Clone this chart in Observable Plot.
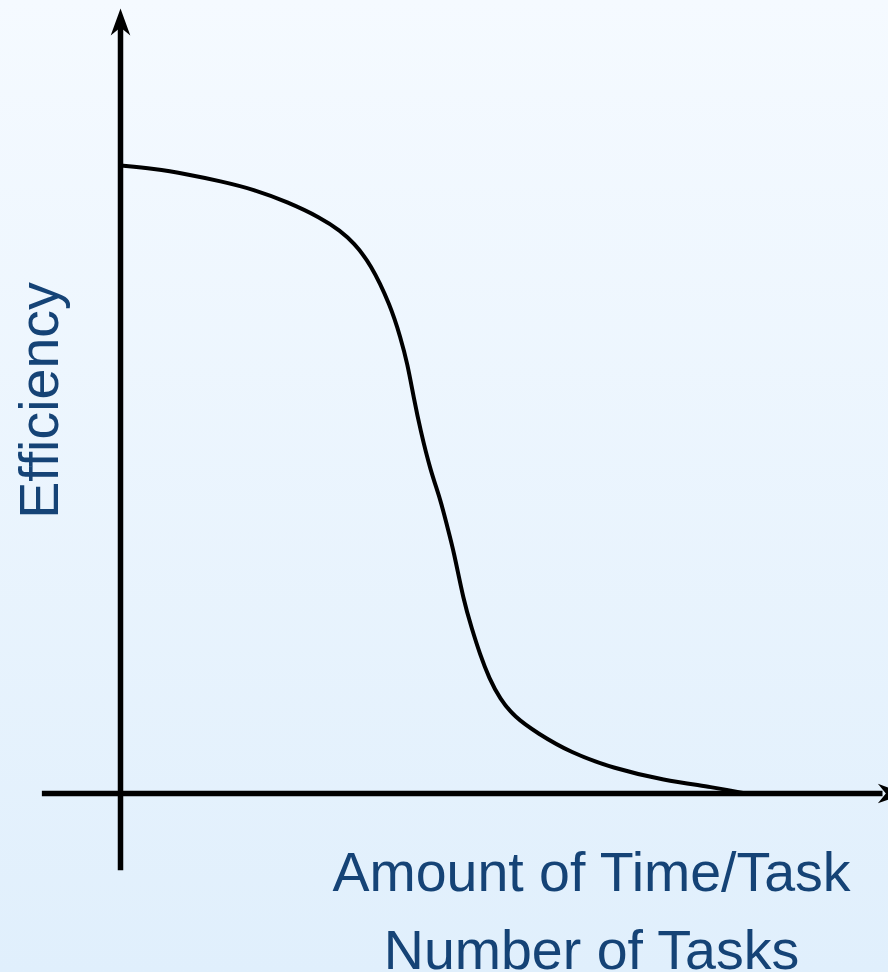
<!DOCTYPE html>
<html>
<head>
<meta charset="utf-8">
<script src="https://cdn.jsdelivr.net/npm/d3@7"></script>
<script src="https://cdn.jsdelivr.net/npm/@observablehq/plot@0.6"></script>
<style>
  html, body { margin: 0; padding: 0; background: #eaf4fd; }
  #chart { width: 888px; height: 972px; }
</style>
</head>
<body>
<div id="chart"></div>
<script>
// Curve: amount of time per task / number of tasks (x) vs efficiency (y)
const load = [0, 0.53, 1.07, 1.6, 2.13, 2.67, 3.2, 3.52, 3.73, 4.0, 4.32, 4.48, 4.59, 4.69, 4.8, 4.96, 5.12, 5.23, 5.33, 5.49, 5.62, 5.75, 5.9, 6.07, 6.3, 6.67, 7.2, 7.89, 8.69, 9.49, 10];
const efficiency = [100, 99.5, 98.6, 97.5, 96.2, 94.2, 91.7, 89.6, 87.7, 84.4, 77.7, 72.6, 68.5, 63.1, 57.8, 51.4, 46.8, 42.4, 38.7, 30.7, 26.3, 22.2, 18.3, 15.1, 12.2, 9.6, 6.5, 4.0, 2.1, 1.0, 0];

// Axis extents (data units)
const xAxisExtent = [-1.25, 12.55];
const yAxisExtent = [-12.3, 125];

// Labels
const yLabel = "Efficiency";
const xLabel = "Amount of Time/Task\nNumber of Tasks";

const curve = load.map((x, i) => ({x, y: efficiency[i]}));

const textColor = "#154376";

// Filled stealth arrowhead pointing up, tip at origin
const stealth = {
  draw(context, size) {
    const s = Math.sqrt(size / Math.PI) / 10;
    context.moveTo(0, 0);
    context.lineTo(9.8 * s, 27 * s);
    context.lineTo(0, 19 * s);
    context.lineTo(-9.8 * s, 27 * s);
    context.closePath();
  }
};

const chart = Plot.plot({
  width: 888,
  height: 972,
  margin: 0,
  style: {
    background: "linear-gradient(to bottom, #f5faff 0%, #e0effc 100%)",
    fontFamily: "'Liberation Sans', Arial, Helvetica, sans-serif",
    overflow: "hidden"
  },
  x: {domain: [0, 10], range: [120, 745], axis: null},
  y: {domain: [0, 100], range: [793, 165], axis: null},
  marks: [
    // x axis line
    Plot.ruleY([0], {x1: xAxisExtent[0], x2: xAxisExtent[1] - 0.35, stroke: "black", strokeWidth: 5.5}),
    // y axis line
    Plot.ruleX([0], {y1: yAxisExtent[0], y2: yAxisExtent[1] - 2.8, stroke: "black", strokeWidth: 5.5}),
    // arrowheads
    Plot.dot([{x: 0, y: yAxisExtent[1]}], {x: "x", y: "y", symbol: stealth, r: 10, fill: "black", stroke: "none"}),
    Plot.dot([{x: xAxisExtent[1], y: 0}], {x: "x", y: "y", symbol: stealth, r: 10, rotate: 90, fill: "black", stroke: "none"}),
    // efficiency curve
    Plot.line(curve, {x: "x", y: "y", curve: "basis", stroke: "black", strokeWidth: 4}),
    // y label
    Plot.text([yLabel], {frameAnchor: "top-left", dx: 57, dy: 400, rotate: -90, text: d => d,
      fontSize: 55.5, fill: textColor, textAnchor: "middle", lineAnchor: "bottom"}),
    // x label (two lines)
    Plot.text([xLabel], {frameAnchor: "top-left", dx: 591, dy: 835, text: d => d,
      fontSize: 55.5, fill: textColor, textAnchor: "middle", lineAnchor: "top", lineHeight: 1.405})
  ]
});

document.getElementById("chart").append(chart);
</script>
</body>
</html>
